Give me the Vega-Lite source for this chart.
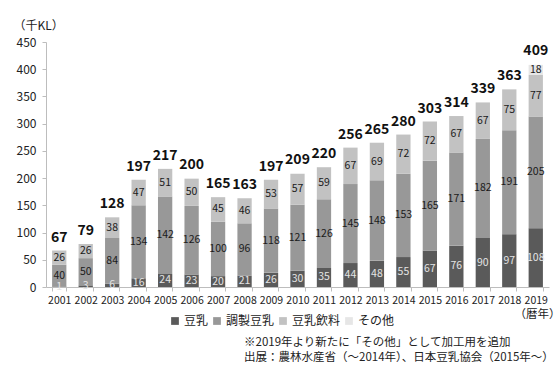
{
  "$schema": "https://vega.github.io/schema/vega-lite/v6.json",
  "autosize": {"type": "none"},
  "width": 503,
  "height": 245,
  "padding": {"left": 46, "top": 42, "right": 11, "bottom": 88},
  "background": "white",
  "config": {
    "font": "Noto Sans CJK JP",
    "view": {"stroke": null},
    "axisY": {
      "tickCount": 9,
      "labelOverlap": false,
      "labelFlush": false,
      "titleAngle": 0,
      "titleX": -33,
      "titleY": -17,
      "titleAlign": "left",
      "titleBaseline": "middle",
      "titleFontSize": 12,
      "titleFontWeight": "normal",
      "titleColor": "#222222",
      "labelFontSize": 12,
      "labelColor": "#222222",
      "labelPadding": 6,
      "grid": false,
      "domainColor": "#bdbdbd",
      "tickColor": "#bdbdbd",
      "tickSize": 4
    }
  },
  "title": {
    "text": ["※2019年より新たに「その他」として加工用を追加", "出展：農林水産省（～2014年）、日本豆乳協会（2015年～）"],
    "orient": "bottom",
    "anchor": "end",
    "frame": "group",
    "align": "left",
    "dx": -305,
    "offset": 10,
    "fontSize": 11.5,
    "fontWeight": "normal",
    "lineHeight": 15,
    "color": "#222222",
    "font": "Noto Sans CJK JP"
  },
  "datasets": {
    "parts": [
      {"year": "2001", "cat": "豆乳", "value": 1, "ord": 1},
      {"year": "2001", "cat": "調製豆乳", "value": 40, "ord": 2},
      {"year": "2001", "cat": "豆乳飲料", "value": 26, "ord": 3},
      {"year": "2002", "cat": "豆乳", "value": 3, "ord": 1},
      {"year": "2002", "cat": "調製豆乳", "value": 50, "ord": 2},
      {"year": "2002", "cat": "豆乳飲料", "value": 26, "ord": 3},
      {"year": "2003", "cat": "豆乳", "value": 6, "ord": 1},
      {"year": "2003", "cat": "調製豆乳", "value": 84, "ord": 2},
      {"year": "2003", "cat": "豆乳飲料", "value": 38, "ord": 3},
      {"year": "2004", "cat": "豆乳", "value": 16, "ord": 1},
      {"year": "2004", "cat": "調製豆乳", "value": 134, "ord": 2},
      {"year": "2004", "cat": "豆乳飲料", "value": 47, "ord": 3},
      {"year": "2005", "cat": "豆乳", "value": 24, "ord": 1},
      {"year": "2005", "cat": "調製豆乳", "value": 142, "ord": 2},
      {"year": "2005", "cat": "豆乳飲料", "value": 51, "ord": 3},
      {"year": "2006", "cat": "豆乳", "value": 23, "ord": 1},
      {"year": "2006", "cat": "調製豆乳", "value": 126, "ord": 2},
      {"year": "2006", "cat": "豆乳飲料", "value": 50, "ord": 3},
      {"year": "2007", "cat": "豆乳", "value": 20, "ord": 1},
      {"year": "2007", "cat": "調製豆乳", "value": 100, "ord": 2},
      {"year": "2007", "cat": "豆乳飲料", "value": 45, "ord": 3},
      {"year": "2008", "cat": "豆乳", "value": 21, "ord": 1},
      {"year": "2008", "cat": "調製豆乳", "value": 96, "ord": 2},
      {"year": "2008", "cat": "豆乳飲料", "value": 46, "ord": 3},
      {"year": "2009", "cat": "豆乳", "value": 26, "ord": 1},
      {"year": "2009", "cat": "調製豆乳", "value": 118, "ord": 2},
      {"year": "2009", "cat": "豆乳飲料", "value": 53, "ord": 3},
      {"year": "2010", "cat": "豆乳", "value": 30, "ord": 1},
      {"year": "2010", "cat": "調製豆乳", "value": 121, "ord": 2},
      {"year": "2010", "cat": "豆乳飲料", "value": 57, "ord": 3},
      {"year": "2011", "cat": "豆乳", "value": 35, "ord": 1},
      {"year": "2011", "cat": "調製豆乳", "value": 126, "ord": 2},
      {"year": "2011", "cat": "豆乳飲料", "value": 59, "ord": 3},
      {"year": "2012", "cat": "豆乳", "value": 44, "ord": 1},
      {"year": "2012", "cat": "調製豆乳", "value": 145, "ord": 2},
      {"year": "2012", "cat": "豆乳飲料", "value": 67, "ord": 3},
      {"year": "2013", "cat": "豆乳", "value": 48, "ord": 1},
      {"year": "2013", "cat": "調製豆乳", "value": 148, "ord": 2},
      {"year": "2013", "cat": "豆乳飲料", "value": 69, "ord": 3},
      {"year": "2014", "cat": "豆乳", "value": 55, "ord": 1},
      {"year": "2014", "cat": "調製豆乳", "value": 153, "ord": 2},
      {"year": "2014", "cat": "豆乳飲料", "value": 72, "ord": 3},
      {"year": "2015", "cat": "豆乳", "value": 67, "ord": 1},
      {"year": "2015", "cat": "調製豆乳", "value": 165, "ord": 2},
      {"year": "2015", "cat": "豆乳飲料", "value": 72, "ord": 3},
      {"year": "2016", "cat": "豆乳", "value": 76, "ord": 1},
      {"year": "2016", "cat": "調製豆乳", "value": 171, "ord": 2},
      {"year": "2016", "cat": "豆乳飲料", "value": 67, "ord": 3},
      {"year": "2017", "cat": "豆乳", "value": 90, "ord": 1},
      {"year": "2017", "cat": "調製豆乳", "value": 182, "ord": 2},
      {"year": "2017", "cat": "豆乳飲料", "value": 67, "ord": 3},
      {"year": "2018", "cat": "豆乳", "value": 97, "ord": 1},
      {"year": "2018", "cat": "調製豆乳", "value": 191, "ord": 2},
      {"year": "2018", "cat": "豆乳飲料", "value": 75, "ord": 3},
      {"year": "2019", "cat": "豆乳", "value": 108, "ord": 1},
      {"year": "2019", "cat": "調製豆乳", "value": 205, "ord": 2},
      {"year": "2019", "cat": "豆乳飲料", "value": 77, "ord": 3},
      {"year": "2019", "cat": "その他", "value": 18, "ord": 4}
    ],
    "totals": [
      {"year": "2001", "total": 67},
      {"year": "2002", "total": 79},
      {"year": "2003", "total": 128},
      {"year": "2004", "total": 197},
      {"year": "2005", "total": 217},
      {"year": "2006", "total": 200},
      {"year": "2007", "total": 165},
      {"year": "2008", "total": 163},
      {"year": "2009", "total": 197},
      {"year": "2010", "total": 209},
      {"year": "2011", "total": 220},
      {"year": "2012", "total": 256},
      {"year": "2013", "total": 265},
      {"year": "2014", "total": 280},
      {"year": "2015", "total": 303},
      {"year": "2016", "total": 314},
      {"year": "2017", "total": 339},
      {"year": "2018", "total": 363},
      {"year": "2019", "total": 409}
    ]
  },
  "encoding": {
    "x": {
      "field": "year",
      "type": "nominal",
      "scale": {"paddingInner": 0.46, "paddingOuter": 0.23},
      "axis": {
        "title": "（暦年）",
        "titleX": 491,
        "titleY": 27,
        "titleAlign": "center",
        "titleBaseline": "middle",
        "titleFontSize": 11.5,
        "titleFontWeight": "normal",
        "titleColor": "#222222",
        "labelAngle": 0,
        "labelFontSize": 10.5,
        "labelColor": "#222222",
        "labelPadding": 4,
        "domainColor": "#bdbdbd",
        "tickColor": "#bdbdbd",
        "tickBand": "extent",
        "tickSize": 4
      }
    }
  },
  "layer": [
    {
      "data": {"name": "parts"},
      "mark": {"type": "bar"},
      "encoding": {
        "y": {
          "field": "value",
          "type": "quantitative",
          "stack": "zero",
          "scale": {"domain": [0, 450], "nice": false},
          "axis": {"title": "（千KL）"}
        },
        "color": {
          "field": "cat",
          "type": "nominal",
          "scale": {
            "domain": ["豆乳", "調製豆乳", "豆乳飲料", "その他"],
            "range": ["#5a5a5a", "#989898", "#c2c2c2", "#e6e6e6"]
          },
          "legend": {
            "title": null,
            "orient": "none",
            "direction": "horizontal",
            "legendX": 123,
            "legendY": 273,
            "symbolType": "square",
            "symbolSize": 60,
            "symbolStrokeWidth": 0,
            "labelFontSize": 12,
            "labelColor": "#222222",
            "labelOffset": 3,
            "columnPadding": 2
          }
        },
        "order": {"field": "ord", "type": "quantitative"}
      }
    },
    {
      "data": {"name": "parts"},
      "mark": {"type": "text", "fontSize": 10.5, "baseline": "middle"},
      "encoding": {
        "y": {"field": "value", "type": "quantitative", "stack": "zero", "bandPosition": 0.5},
        "detail": {"field": "cat", "type": "nominal"},
        "order": {"field": "ord", "type": "quantitative"},
        "text": {"field": "value", "type": "quantitative"},
        "color": {
          "condition": {"test": "datum.cat === '豆乳'", "value": "#e4e4e4"},
          "value": "#1a1a1a"
        }
      }
    },
    {
      "data": {"name": "totals"},
      "mark": {"type": "text", "fontSize": 14, "fontWeight": "bold", "baseline": "alphabetic", "dy": -9, "color": "#111111"},
      "encoding": {
        "y": {"field": "total", "type": "quantitative"},
        "text": {"field": "total", "type": "quantitative"}
      }
    }
  ]
}
